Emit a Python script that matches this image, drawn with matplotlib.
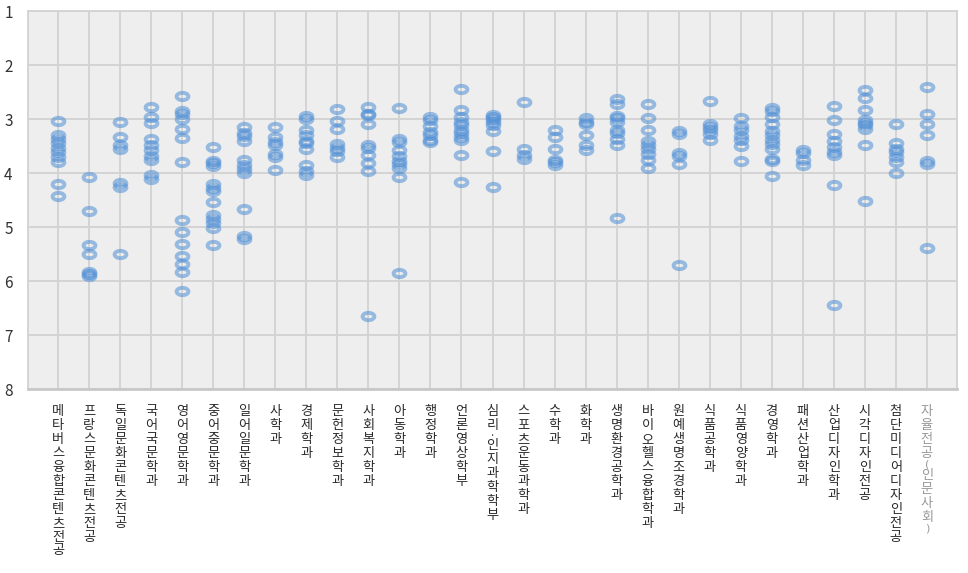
import matplotlib
matplotlib.use('Agg')
import matplotlib.pyplot as plt
import numpy as np
from matplotlib.path import Path

plt.rcParams['font.family'] = ['Noto Sans CJK KR', 'DejaVu Sans']
plt.rcParams['axes.unicode_minus'] = False

# 학과 이름
departments = [
    '메타버스융합콘텐츠전공', '프랑스문화콘텐츠전공', '독일문화콘텐츠전공', '국어국문학과',
    '영어영문학과', '중어중문학과', '일어일문학과', '사학과', '경제학과', '문헌정보학과',
    '사회복지학과', '아동학과', '행정학과', '언론영상학부', '심리·인지과학학부',
    '스포츠운동과학과', '수학과', '화학과', '생명환경공학과', '바이오헬스융합학과',
    '원예생명조경학과', '식품공학과', '식품영양학과', '경영학과', '패션산업학과',
    '산업디자인학과', '시각디자인전공', '첨단미디어디자인전공', '자율전공(인문사회)',
]

# 학과별 등급 값
grades_01 = [3.03, 3.3, 3.37, 3.45, 3.54, 3.62, 3.7, 3.79, 4.2, 4.43]
grades_02 = [4.07, 4.71, 5.33, 5.5, 5.83, 5.87, 5.9]
grades_03 = [3.06, 3.34, 3.48, 3.56, 4.19, 4.25, 5.5]
grades_04 = [2.77, 2.97, 3.08, 3.37, 3.48, 3.58, 3.69, 3.75, 4.03, 4.12]
grades_05 = [2.57, 2.86, 2.9, 3.0, 3.18, 3.36, 3.79, 4.87, 5.1, 5.31, 5.53, 5.68, 5.84, 6.18]
grades_06 = [3.52, 3.77, 3.82, 3.87, 4.2, 4.27, 4.33, 4.54, 4.77, 4.86, 4.93, 5.01, 5.33]
grades_07 = [3.14, 3.26, 3.31, 3.4, 3.75, 3.85, 3.93, 4.0, 4.67, 5.16, 5.22]
grades_08 = [3.14, 3.34, 3.43, 3.48, 3.65, 3.71, 3.95]
grades_09 = [2.95, 3.0, 3.2, 3.29, 3.4, 3.45, 3.55, 3.86, 3.97, 4.03]
grades_10 = [2.81, 3.04, 3.19, 3.46, 3.53, 3.6, 3.7]
grades_11 = [2.77, 2.9, 2.93, 3.1, 3.49, 3.53, 3.67, 3.81, 3.97, 6.64]
grades_12 = [2.8, 3.37, 3.42, 3.57, 3.68, 3.77, 3.84, 3.9, 4.08, 5.85]
grades_13 = [2.97, 3.02, 3.13, 3.24, 3.3, 3.39, 3.43]
grades_14 = [2.44, 2.84, 2.96, 3.05, 3.12, 3.2, 3.26, 3.33, 3.38, 3.66, 4.16]
grades_15 = [2.92, 2.96, 3.0, 3.05, 3.12, 3.22, 3.6, 4.26]
grades_16 = [2.69, 3.56, 3.66, 3.74]
grades_17 = [3.2, 3.34, 3.56, 3.76, 3.8, 3.86]
grades_18 = [2.99, 3.05, 3.1, 3.29, 3.49, 3.57]
grades_19 = [2.63, 2.73, 2.94, 2.98, 3.06, 3.2, 3.26, 3.37, 3.48, 4.83]
grades_20 = [2.72, 2.99, 3.2, 3.41, 3.48, 3.56, 3.64, 3.75, 3.91]
grades_21 = [3.23, 3.28, 3.63, 3.69, 3.83, 5.7]
grades_22 = [2.67, 3.1, 3.15, 3.21, 3.28, 3.38]
grades_23 = [2.99, 3.13, 3.21, 3.32, 3.38, 3.5, 3.78]
grades_24 = [2.8, 2.86, 2.97, 3.1, 3.23, 3.3, 3.38, 3.47, 3.56, 3.74, 3.78, 4.06]
grades_25 = [3.57, 3.63, 3.75, 3.86]
grades_26 = [2.75, 3.01, 3.27, 3.41, 3.52, 3.61, 3.66, 4.22, 6.45]
grades_27 = [2.46, 2.61, 2.83, 3.02, 3.07, 3.12, 3.19, 3.48, 4.51]
grades_28 = [3.1, 3.44, 3.55, 3.62, 3.7, 3.8, 4.0]
grades_29 = [2.41, 2.91, 3.1, 3.3, 3.77, 3.83, 5.39]

all_grades = [
    grades_01, grades_02, grades_03, grades_04, grades_05, grades_06, grades_07,
    grades_08, grades_09, grades_10, grades_11, grades_12, grades_13, grades_14,
    grades_15, grades_16, grades_17, grades_18, grades_19, grades_20, grades_21,
    grades_22, grades_23, grades_24, grades_25, grades_26, grades_27, grades_28,
    grades_29,
]

y_ticks = [1, 2, 3, 4, 5, 6, 7, 8]

# 납작한 타원형 링 마커
t = np.linspace(0, 2 * np.pi, 60)
ring = Path(np.column_stack([np.cos(t), 0.62 * np.sin(t)]), closed=True)

fig = plt.figure(figsize=(9.68, 5.73), dpi=100)
ax = fig.add_axes([28 / 968, 1 - 389 / 573, (957 - 28) / 968, (389 - 11) / 573])
ax.set_facecolor('#eeeeee')

for i, vals in enumerate(all_grades):
    xs = np.full(len(vals), i + 1)
    ax.plot(xs, vals, linestyle='none', marker=ring, markersize=8.5,
            markerfacecolor='none', markeredgecolor='#4f8fd6',
            markeredgewidth=2.8, alpha=0.55, zorder=3)

ax.set_xlim(0.03, len(departments) + 0.97)
ax.set_ylim(8, 1)
ax.set_yticks(y_ticks)
ax.set_yticklabels([str(v) for v in y_ticks], fontsize=11, color='#333333')
ax.set_xticks(np.arange(1, len(departments) + 1))
ax.set_xticklabels([])

ax.tick_params(axis='both', length=0)
ax.tick_params(axis='y', pad=11)

# 세로쓰기 라벨: 글자를 하나씩 위에서 아래로 쌓는다
step_full = 13.9
step_small = {'·': 6.0, '(': 8.0, ')': 8.0}
for i, name in enumerate(departments):
    color = '#999999' if i == len(departments) - 1 else '#2a2a2a'
    y = 16.0
    for ch in name:
        step = step_small.get(ch, step_full)
        if ch in '()':
            kw = dict(fontsize=8, family='DejaVu Sans')
        elif ch == '·':
            kw = dict(fontsize=7)
        else:
            kw = dict(fontsize=9.5)
        ax.annotate(ch, xy=(i + 1, 0), xycoords=ax.get_xaxis_transform(),
                    xytext=(0, -(y + step / 2)), textcoords='offset pixels',
                    ha='center', va='center', color=color,
                    annotation_clip=False, **kw)
        y += step

ax.grid(True, color='#d2d2d2', linewidth=1.3, zorder=0)
ax.set_axisbelow(True)
for side in ['top', 'left', 'right']:
    ax.spines[side].set_color('#d2d2d2')
    ax.spines[side].set_linewidth(1.3)
ax.spines['bottom'].set_color('#c8c8c8')
ax.spines['bottom'].set_linewidth(2)

fig.savefig('out.png', dpi=100)
